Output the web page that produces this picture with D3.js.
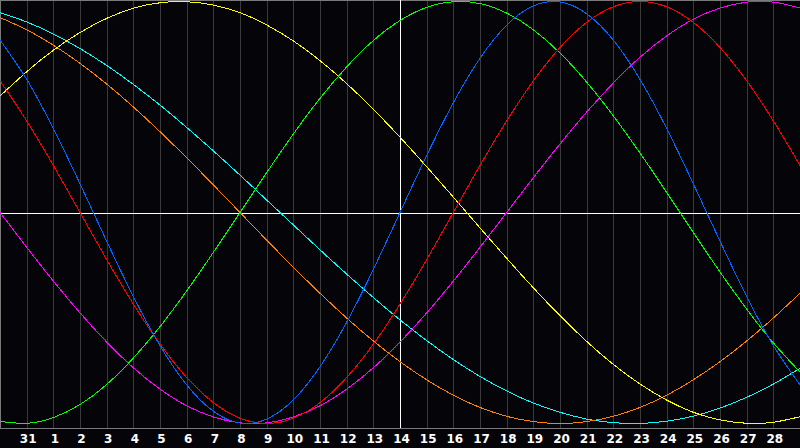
<!DOCTYPE html>
<html>
<head>
<meta charset="utf-8">
<script src="https://cdn.jsdelivr.net/npm/d3@7"></script>
<style>
  html, body { margin: 0; padding: 0; background: #050409; }
  svg { display: block; }
  .grid { stroke: #3a3a3a; stroke-width: 1; shape-rendering: crispEdges; }
  .frame { stroke: #7a7a7a; stroke-width: 1; shape-rendering: crispEdges; }
  .center { stroke: #ffffff; stroke-width: 1; shape-rendering: crispEdges; }
  .line { fill: none; stroke-width: 1; shape-rendering: crispEdges; }
  .axis text { fill: #ffffff; font-family: "DejaVu Sans", sans-serif; font-weight: bold; font-size: 12px; }
</style>
</head>
<body>
<script>

//setting dimensions
var width = 800,
    height = 448,
    plotBottom = 428;

// day labels under the gridlines (31 Jan, then February)
var tickLabels = ["31","1","2","3","4","5","6","7","8","9","10","11","12","13","14",
                  "15","16","17","18","19","20","21","22","23","24","25","26","27","28"];

// one value per day, day 0 = left edge, day 30 = right edge
var physical = [0.817,0.631,0.398,0.136,-0.136,-0.398,-0.631,-0.817,-0.942,-0.998,-0.979,
                -0.888,-0.731,-0.520,-0.270,0,0.270,0.520,0.731,0.888,0.979,0.998,0.942,
                0.817,0.631,0.398,0.136,-0.136,-0.398,-0.631,-0.817];
var emotional = [0.624,0.434,0.223,0,-0.223,-0.434,-0.624,-0.782,-0.901,-0.975,-1,
                 -0.975,-0.901,-0.782,-0.624,-0.434,-0.223,0,0.223,0.434,0.624,0.782,0.901,
                 0.975,1,0.975,0.901,0.782,0.624,0.434,0.223];
var intellectual = [-0.990,-0.999,-0.972,-0.910,-0.815,-0.690,-0.541,-0.372,-0.189,0,0.189,
                    0.372,0.541,0.690,0.815,0.910,0.972,0.999,0.990,0.945,0.866,0.756,0.618,
                    0.458,0.282,0.095,-0.095,-0.282,-0.458,-0.618,-0.756];
var intuitive = [0,-0.165,-0.325,-0.476,-0.614,-0.736,-0.837,-0.916,-0.969,-0.997,-0.997,
                 -0.969,-0.916,-0.837,-0.736,-0.614,-0.476,-0.325,-0.165,0,0.165,0.325,0.476,
                 0.614,0.736,0.837,0.916,0.969,0.997,0.997,0.969];
var aesthetic = [0.552,0.667,0.769,0.853,0.920,0.968,0.994,0.999,0.983,0.947,0.889,
                 0.813,0.720,0.611,0.489,0.357,0.217,0.073,-0.073,-0.217,-0.357,-0.489,-0.611,
                 -0.720,-0.813,-0.889,-0.947,-0.983,-0.999,-0.994,-0.968];
var awareness = [0.924,0.866,0.793,0.707,0.609,0.5,0.383,0.259,0.131,0,-0.131,
                 -0.259,-0.383,-0.5,-0.609,-0.707,-0.793,-0.866,-0.924,-0.966,-0.991,-1,-0.991,
                 -0.966,-0.924,-0.866,-0.793,-0.707,-0.609,-0.5,-0.383];
var spiritual = [0.947,0.903,0.846,0.777,0.697,0.607,0.509,0.403,0.292,0.177,0.059,
                 -0.059,-0.177,-0.292,-0.403,-0.509,-0.607,-0.697,-0.777,-0.846,-0.903,-0.947,-0.979,
                 -0.996,-1.000,-0.989,-0.965,-0.927,-0.876,-0.813,-0.738];

var series = [
  {name: "spiritual", values: spiritual, color: "#00ffff"},
  {name: "awareness", values: awareness, color: "#ff8000"},
  {name: "aesthetic", values: aesthetic, color: "#ffff00"},
  {name: "intuitive", values: intuitive, color: "#ff00ff"},
  {name: "intellectual", values: intellectual, color: "#00ff00"},
  {name: "emotional", values: emotional, color: "#ff0000"},
  {name: "physical", values: physical, color: "#0066ff"}
];

//setting ranges
var x = d3.scaleLinear().domain([0, 30]).range([0, width]);
var y = d3.scaleLinear().domain([-1, 1]).range([423.5, 1.5]);

var svg = d3.select("body").append("svg")
    .attr("width", width)
    .attr("height", height);

svg.append("rect")
    .attr("width", width)
    .attr("height", height)
    .attr("fill", "#050409");

// vertical day gridlines
svg.append("g").selectAll("line")
    .data(d3.range(1, tickLabels.length + 1))
  .enter().append("line")
    .attr("class", "grid")
    .attr("x1", function(d) { return Math.round(x(d)) + 0.5; })
    .attr("x2", function(d) { return Math.round(x(d)) + 0.5; })
    .attr("y1", 0)
    .attr("y2", plotBottom);

// frame: top, left, bottom
svg.append("line").attr("class", "frame")
    .attr("x1", 0).attr("x2", width).attr("y1", 0.5).attr("y2", 0.5);
svg.append("line").attr("class", "frame")
    .attr("x1", 0.5).attr("x2", 0.5).attr("y1", 0).attr("y2", plotBottom);
svg.append("line").attr("class", "frame")
    .attr("x1", 0).attr("x2", width).attr("y1", plotBottom + 0.5).attr("y2", plotBottom + 0.5);

// center cross
svg.append("line").attr("class", "center")
    .attr("x1", 0).attr("x2", width)
    .attr("y1", Math.round(y(0)) + 0.5).attr("y2", Math.round(y(0)) + 0.5);
svg.append("line").attr("class", "center")
    .attr("x1", x(15) + 0.5).attr("x2", x(15) + 0.5)
    .attr("y1", 0).attr("y2", plotBottom);

// the curves
var valueline = d3.line()
    .x(function(d, i) { return x(i); })
    .y(function(d) { return y(d); })
    .curve(d3.curveNatural);

svg.append("g").selectAll("path")
    .data(series)
  .enter().append("path")
    .attr("class", "line")
    .attr("stroke", function(d) { return d.color; })
    .attr("d", function(d) { return valueline(d.values); });

// day labels
svg.append("g")
    .attr("class", "axis")
    .attr("transform", "translate(1," + plotBottom + ")")
    .call(d3.axisBottom(x)
            .tickValues(d3.range(1, tickLabels.length + 1))
            .tickFormat(function(d) { return tickLabels[d - 1]; })
            .tickSize(0)
            .tickPadding(6))
    .call(function(g) { g.select(".domain").remove(); });

</script>
</body>
</html>
